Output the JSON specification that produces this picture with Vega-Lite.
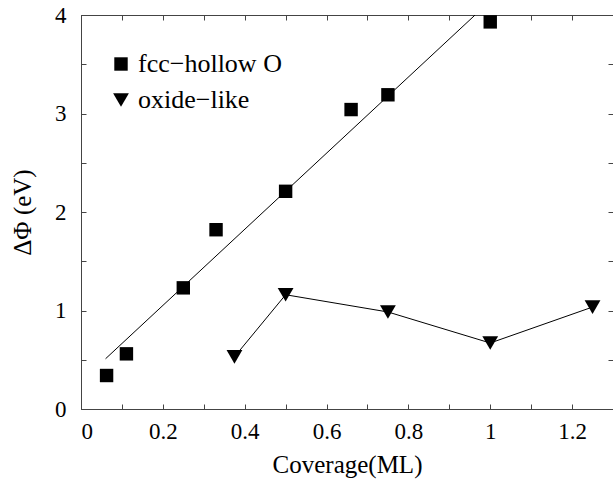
{
  "$schema": "https://vega.github.io/schema/vega-lite/v6.json",
  "autosize": "none",
  "width": 532,
  "height": 394,
  "padding": {"left": 81, "top": 15, "right": 0, "bottom": 70},
  "background": "white",
  "config": {
    "view": {"stroke": "#444", "strokeWidth": 1},
    "font": "Liberation Serif",
    "axis": {
      "domainColor": "#444",
      "tickColor": "#444",
      "tickSize": -5,
      "grid": false,
      "labelFont": "Liberation Serif",
      "labelFontSize": 23,
      "labelColor": "black",
      "titleFont": "Liberation Serif",
      "titleFontSize": 25,
      "titleFontWeight": "normal",
      "titleColor": "black"
    },
    "legend": {
      "labelFont": "Liberation Serif",
      "labelFontSize": 26,
      "labelColor": "black"
    }
  },
  "datasets": {
    "points": [
      {"coverage": 0.0625, "dphi": 0.34, "series": "fcc−hollow O"},
      {"coverage": 0.111, "dphi": 0.56, "series": "fcc−hollow O"},
      {"coverage": 0.25, "dphi": 1.23, "series": "fcc−hollow O"},
      {"coverage": 0.33, "dphi": 1.82, "series": "fcc−hollow O"},
      {"coverage": 0.5, "dphi": 2.21, "series": "fcc−hollow O"},
      {"coverage": 0.66, "dphi": 3.04, "series": "fcc−hollow O"},
      {"coverage": 0.75, "dphi": 3.19, "series": "fcc−hollow O"},
      {"coverage": 1.0, "dphi": 3.93, "series": "fcc−hollow O"},
      {"coverage": 0.375, "dphi": 0.53, "series": "oxide−like"},
      {"coverage": 0.5, "dphi": 1.16, "series": "oxide−like"},
      {"coverage": 0.75, "dphi": 0.985, "series": "oxide−like"},
      {"coverage": 1.0, "dphi": 0.67, "series": "oxide−like"},
      {"coverage": 1.25, "dphi": 1.035, "series": "oxide−like"}
    ],
    "fit": [
      {"coverage": 0.06, "dphi": 0.51},
      {"coverage": 0.963, "dphi": 4.0}
    ]
  },
  "resolve": {"axis": {"x": "independent", "y": "independent"}},
  "layer": [
    {
      "data": {"name": "fit"},
      "mark": {"type": "line", "color": "black", "strokeWidth": 1, "clip": true},
      "encoding": {
        "x": {"field": "coverage", "type": "quantitative",
              "scale": {"domain": [0, 1.3], "nice": false},
              "axis": {"orient": "top", "values": [0, 0.1, 0.2, 0.3, 0.4, 0.5, 0.6, 0.7, 0.8, 0.9, 1.0, 1.1, 1.2],
                       "labels": false, "title": null}},
        "y": {"field": "dphi", "type": "quantitative",
              "scale": {"domain": [0, 4], "nice": false},
              "axis": {"orient": "right", "values": [0, 0.5, 1, 1.5, 2, 2.5, 3, 3.5, 4],
                       "labels": false, "title": null}}
      }
    },
    {
      "data": {"name": "points"},
      "transform": [{"filter": "datum.series == 'oxide−like'"}],
      "mark": {"type": "line", "color": "black", "strokeWidth": 1},
      "encoding": {
        "x": {"field": "coverage", "type": "quantitative", "scale": {"domain": [0, 1.3], "nice": false}, "axis": null},
        "y": {"field": "dphi", "type": "quantitative", "scale": {"domain": [0, 4], "nice": false}, "axis": null}
      }
    },
    {
      "data": {"name": "points"},
      "mark": {"type": "point", "filled": true, "color": "black", "opacity": 1},
      "encoding": {
        "x": {"field": "coverage", "type": "quantitative",
              "scale": {"domain": [0, 1.3], "nice": false},
              "axis": {"orient": "bottom", "title": "Coverage(ML)",
                       "values": [0, 0.1, 0.2, 0.3, 0.4, 0.5, 0.6, 0.7, 0.8, 0.9, 1.0, 1.1, 1.2],
                       "format": "~g",
                       "labelExpr": "round(datum.value * 10) % 2 == 0 ? datum.label : ''",
                       "labelPadding": 16, "titlePadding": 9}},
        "y": {"field": "dphi", "type": "quantitative",
              "scale": {"domain": [0, 4], "nice": false},
              "axis": {"orient": "left", "title": "ΔΦ (eV)",
                       "values": [0, 0.5, 1, 1.5, 2, 2.5, 3, 3.5, 4],
                       "format": "~g",
                       "labelExpr": "round(datum.value * 2) % 2 == 0 ? datum.label : ''",
                       "labelPadding": 20, "titlePadding": 19}},
        "shape": {"field": "series", "type": "nominal",
                  "scale": {"domain": ["fcc−hollow O", "oxide−like"], "range": ["square", "triangle-down"]},
                  "legend": {"orient": "none", "legendX": 27, "legendY": 36, "title": null,
                             "symbolFillColor": "black", "symbolStrokeColor": "black",
                             "rowPadding": 10, "labelOffset": 4, "padding": 0}},
        "size": {"field": "series", "type": "nominal",
                 "scale": {"domain": ["fcc−hollow O", "oxide−like"], "range": [180, 250]},
                 "legend": {"orient": "none", "legendX": 27, "legendY": 36, "title": null,
                            "symbolFillColor": "black", "symbolStrokeColor": "black",
                            "rowPadding": 10, "labelOffset": 4, "padding": 0}}
      }
    }
  ]
}
